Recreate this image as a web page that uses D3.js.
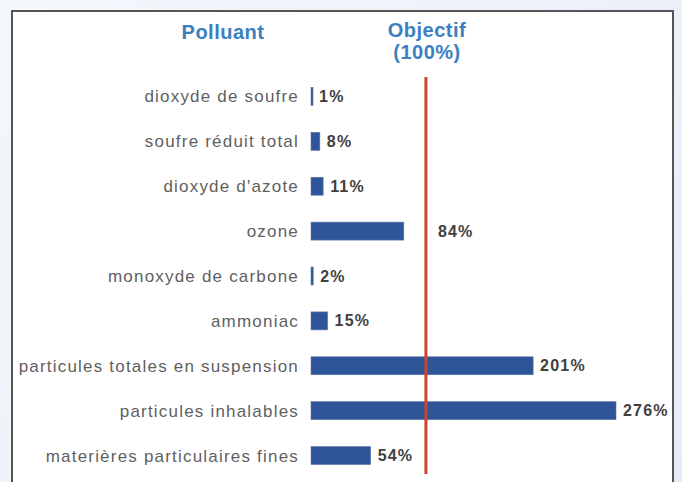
<!DOCTYPE html>
<html lang="fr">
<head>
<meta charset="utf-8">
<script src="https://cdn.jsdelivr.net/npm/d3@7"></script>
<style>
    html, body {
        margin: 0;
        padding: 0;
    }
    body {
        width: 682px;
        height: 482px;
        overflow: hidden;
        background: linear-gradient(135deg, #f4f7fc 0%, #e6ecf7 100%);
        font-family: "Liberation Sans", Arial, sans-serif;
    }
</style>
</head>
<body>
<div id="chart"></div>
<script>
    // data
    var polluants = ["dioxyde de soufre", "soufre réduit total", "dioxyde d'azote", "ozone",
                     "monoxyde de carbone", "ammoniac", "particules totales en suspension",
                     "particules inhalables", "materières particulaires fines"];
    var pourcentages = [1, 8, 11, 84, 2, 15, 201, 276, 54];
    var objectif = 104;   // the red line sits a bit right of 100 in the picture
    var titreGauche = "Polluant";
    var titreObjectif = ["Objectif", "(100%)"];

    var w = 682, h = 482;

    var svg = d3.select("#chart")
        .append("svg")
        .attr("width", w)
        .attr("height", h);

    // white panel with dark frame
    svg.append("rect")
        .attr("x", 12)
        .attr("y", 11)
        .attr("width", 661)
        .attr("height", 490)
        .style("fill", "white")
        .style("stroke", "#555")
        .style("stroke-width", 2);

    var x = d3.scaleLinear()
        .domain([0, 276])
        .range([311, 616]);

    var y = d3.scaleBand()
        .domain(polluants)
        .range([74, 478])
        .paddingInner(0.6)
        .paddingOuter(0.3);

    var rows = polluants.map(function (p, i) { return { name: p, value: pourcentages[i] }; });

    // category labels
    svg.append("g").selectAll("text")
        .data(rows)
        .enter()
        .append("text")
        .attr("x", 299)
        .attr("y", function (d) { return y(d.name) + y.bandwidth() / 2; })
        .attr("dy", "0.35em")
        .attr("text-anchor", "end")
        .style("font-size", "17px")
        .style("letter-spacing", "1.2px")
        .style("fill", "#5f5f5f")
        .text(function (d) { return d.name; });

    // bars
    svg.append("g").selectAll("rect")
        .data(rows)
        .enter()
        .append("rect")
        .attr("x", x(0))
        .attr("y", function (d) { return y(d.name); })
        .attr("width", function (d) { return Math.max(2, x(d.value) - x(0)); })
        .attr("height", y.bandwidth())
        .style("fill", "#2e5597")
        .style("stroke", "#5a76ab")
        .style("stroke-width", 0.6);

    // objective line
    var lineX = x(objectif);
    svg.append("line")
        .attr("x1", lineX)
        .attr("x2", lineX)
        .attr("y1", 77)
        .attr("y2", 474)
        .style("stroke", "#c9452f")
        .style("stroke-width", 3);

    // value labels, pushed past the red line when they would touch it
    var valueLabels = svg.append("g").selectAll("text")
        .data(rows)
        .enter()
        .append("text")
        .attr("y", function (d) { return y(d.name) + y.bandwidth() / 2; })
        .attr("dy", "0.35em")
        .style("font-size", "16px")
        .style("font-weight", "bold")
        .style("letter-spacing", "1.2px")
        .style("fill", "#404040")
        .text(function (d) { return d.value + "%"; });

    valueLabels.attr("x", function (d) {
        var start = x(d.value) + 7;
        var tw = this.getComputedTextLength();
        if (start < lineX + 4 && start + tw > lineX - 4) start = lineX + 12;
        return start;
    });

    // headers
    svg.append("text")
        .attr("x", 223)
        .attr("y", 39)
        .attr("text-anchor", "middle")
        .style("font-size", "20px")
        .style("font-weight", "bold")
        .style("letter-spacing", "0.5px")
        .style("fill", "#3b7fc0")
        .text(titreGauche);

    svg.append("g").selectAll("text")
        .data(titreObjectif)
        .enter()
        .append("text")
        .attr("x", 427)
        .attr("y", function (d, i) { return 37 + i * 22; })
        .attr("text-anchor", "middle")
        .style("font-size", "20px")
        .style("font-weight", "bold")
        .style("letter-spacing", "0.5px")
        .style("fill", "#3b7fc0")
        .text(function (d) { return d; });
</script>
</body>
</html>
